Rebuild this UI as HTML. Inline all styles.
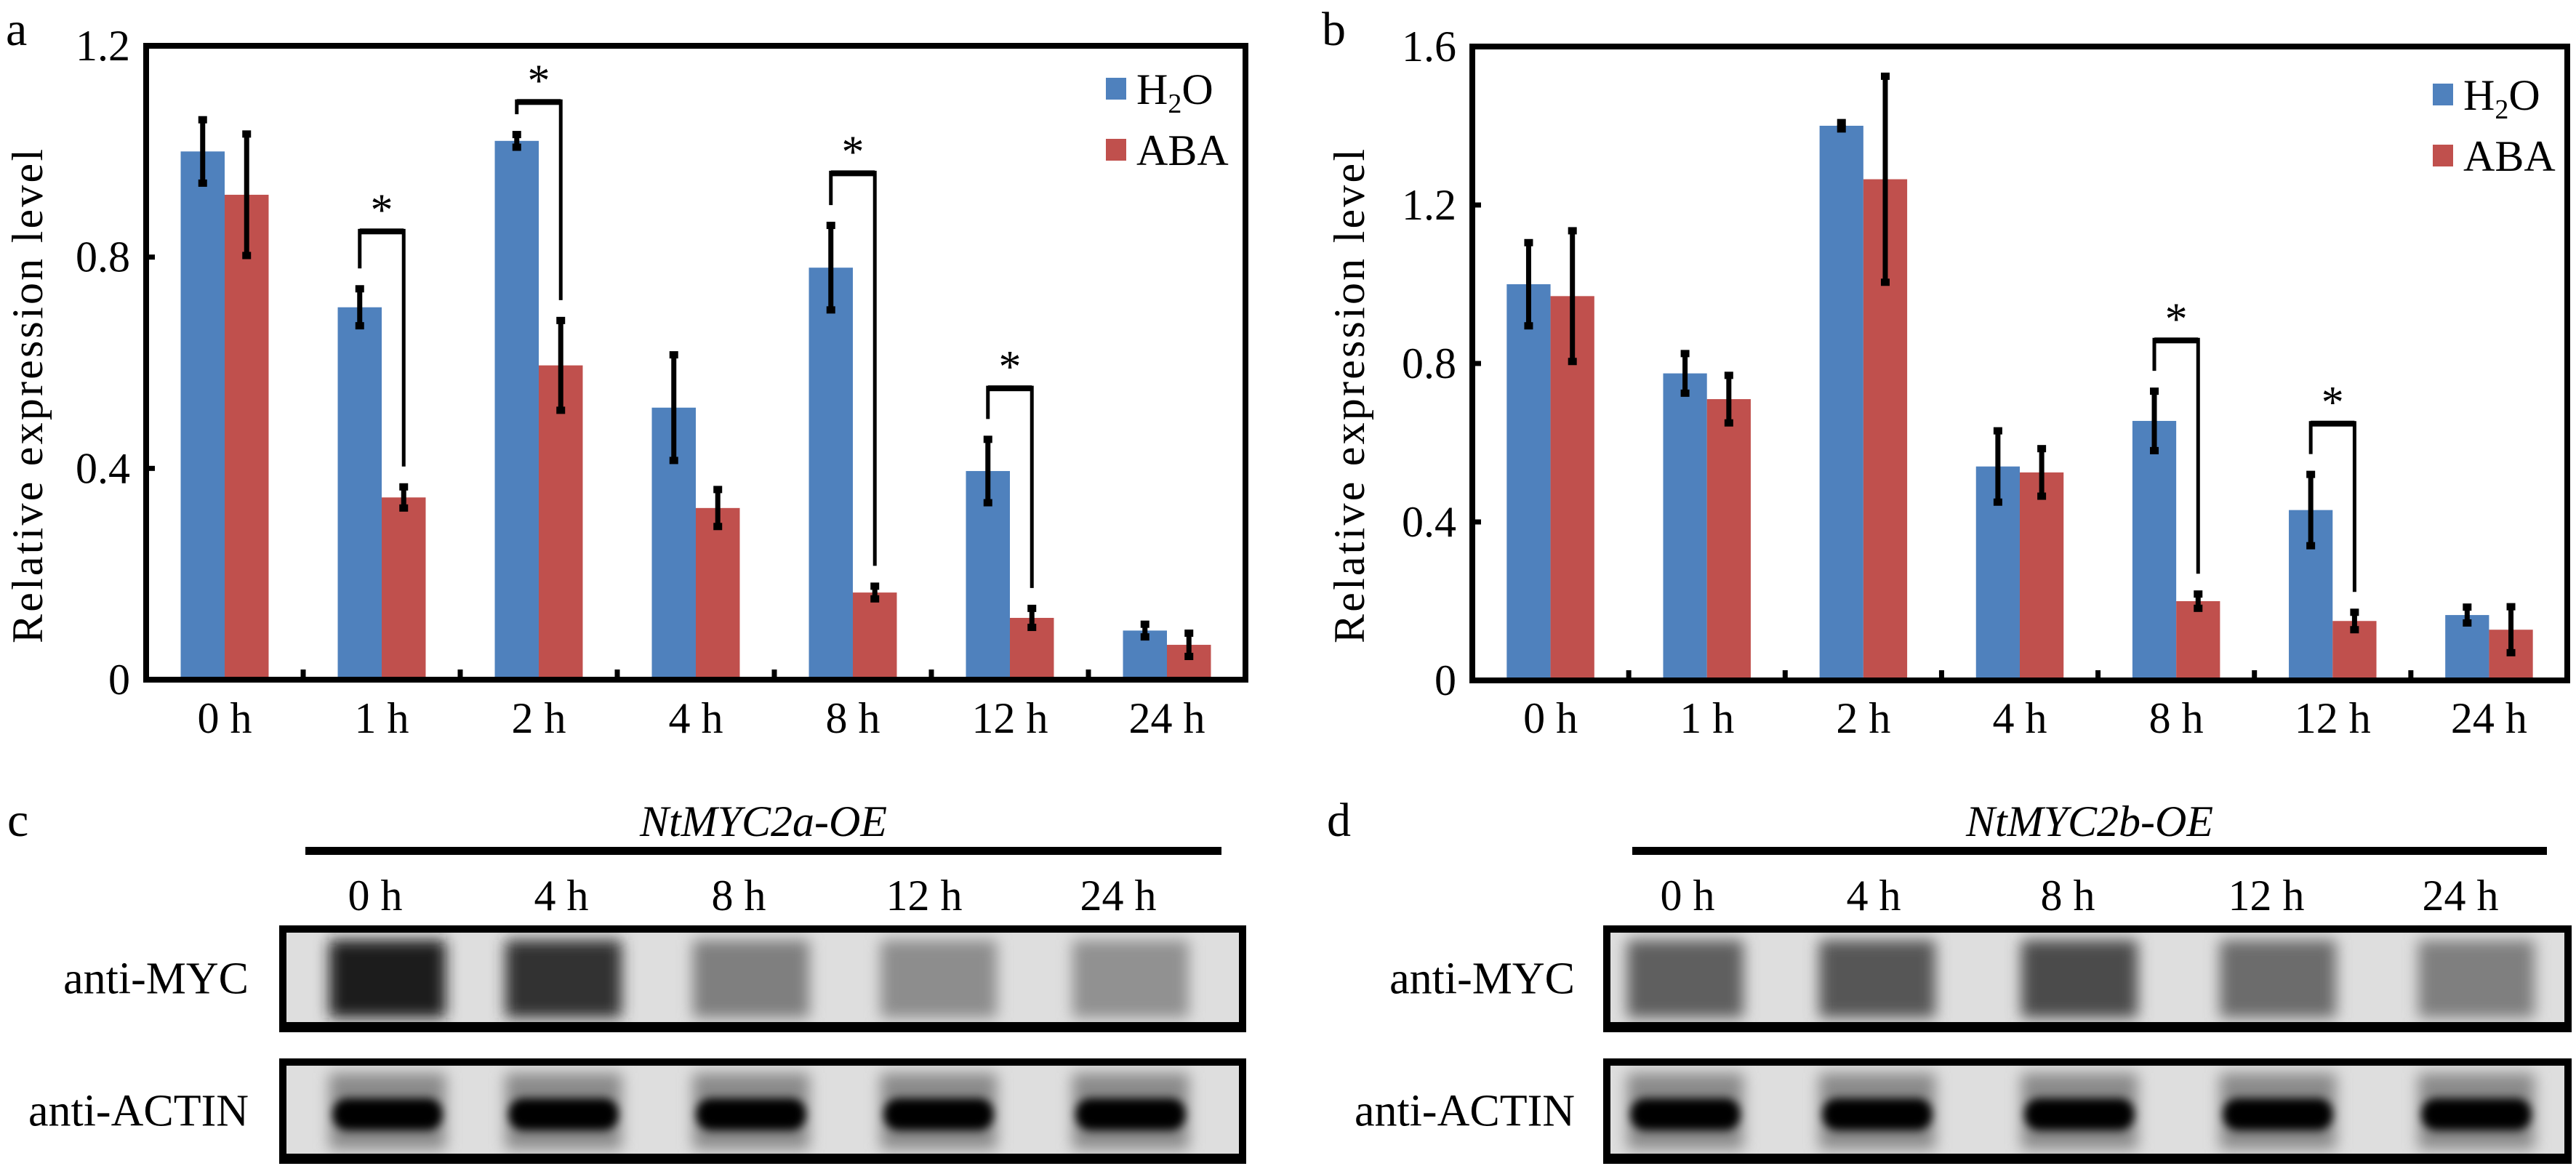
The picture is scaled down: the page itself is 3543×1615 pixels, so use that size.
<!DOCTYPE html>
<html><head><meta charset="utf-8">
<style>
html,body{margin:0;padding:0;background:#fff;}
svg{display:block;font-family:"Liberation Serif",serif;}
</style></head>
<body>
<svg id="fig" width="3543" height="1615" viewBox="0 0 3543 1615" xmlns="http://www.w3.org/2000/svg">
<defs>
<filter id="blur" x="-30%" y="-30%" width="160%" height="160%"><feGaussianBlur stdDeviation="10"/></filter>
<filter id="blur2" x="-30%" y="-50%" width="160%" height="200%"><feGaussianBlur stdDeviation="6"/></filter>
</defs>
</svg>
<script>
// ---- Panel a data ----
const categoriesA = ["0 h","1 h","2 h","4 h","8 h","12 h","24 h"];
const h2oA = [1.00,0.705,1.02,0.515,0.78,0.395,0.093];
const h2oErrA = [0.06,0.035,0.012,0.10,0.08,0.06,0.012];
const abaA = [0.918,0.345,0.595,0.325,0.165,0.117,0.066];
const abaErrA = [0.115,0.02,0.085,0.035,0.012,0.018,0.022];
const ticksA = [0,0.4,0.8,1.2];
const tickLabelsA = ["0","0.4","0.8","1.2"];
const sigA = [1,2,4,5];
const bracketTopA = [0.85,1.095,0.96,0.553];
// ---- Panel b data ----
const categoriesB = ["0 h","1 h","2 h","4 h","8 h","12 h","24 h"];
const h2oB = [1.00,0.775,1.40,0.54,0.655,0.43,0.165];
const h2oErrB = [0.105,0.05,0.008,0.09,0.075,0.09,0.02];
const abaB = [0.97,0.71,1.265,0.525,0.20,0.15,0.128];
const abaErrB = [0.165,0.06,0.26,0.06,0.018,0.022,0.058];
const ticksB = [0,0.4,0.8,1.2,1.6];
const tickLabelsB = ["0","0.4","0.8","1.2","1.6"];
const sigB = [4,5];
const bracketTopB = [0.86,0.65];
// ---- Blot data ----
const lanesC = ["0 h","4 h","8 h","12 h","24 h"];
const mycC = [0.95,0.85,0.45,0.38,0.36];
const actinC = [0.95,0.95,0.95,0.95,0.9];
const lanesD = ["0 h","4 h","8 h","12 h","24 h"];
const mycD = [0.62,0.66,0.72,0.55,0.45];
const actinD = [0.95,0.95,0.95,0.95,0.95];

const NS="http://www.w3.org/2000/svg";
const svg=document.getElementById('fig');
function el(tag,attrs,parent,text){const e=document.createElementNS(NS,tag);for(const k in attrs)e.setAttribute(k,attrs[k]);if(text!==undefined)e.textContent=text;(parent||svg).appendChild(e);return e;}

function drawChart(cfg){
  const g=el('g',{});
  
  
  const {x0,x1,y0,y1,vmax}=cfg;
  const yS=v=>y0-(v/vmax)*(y0-y1);
  const gw=(x1-x0)/cfg.cats.length;
  const bw=gw*0.28;
  const off=gw*0.22;
  const bx=(i,s)=>x0+i*gw+off+s*bw;
  // bars
  cfg.cats.forEach((c,i)=>{
    const series=[[cfg.h2o,cfg.h2oErr,'#4F81BD','h2o'],[cfg.aba,cfg.abaErr,'#C0504D','aba']];
    series.forEach((s,si)=>{
      const v=s[0][i],e=s[1][i];
      const r=el('rect',{x:bx(i,si),y:yS(v),width:bw,height:y0-yS(v),fill:s[2]},g);
      
      
      const cx=bx(i,si)+bw/2;
      const eg=el('g',{},g);
      
      
      el('line',{x1:cx,x2:cx,y1:yS(v+e),y2:yS(v-e),stroke:'#000','stroke-width':7},eg);
      el('rect',{x:cx-6,y:yS(v+e)-5,width:12,height:10,fill:'#000'},eg);
      el('rect',{x:cx-6,y:yS(v-e)-5,width:12,height:10,fill:'#000'},eg);
    });
    const t=el('text',{x:x0+i*gw+gw/2,y:cfg.labY,'font-size':60,'text-anchor':'middle'},g,c);
    
    
    if(i>0){el('line',{x1:x0+i*gw,x2:x0+i*gw,y1:y0,y2:y0-14,stroke:'#000','stroke-width':7},g);}
  });
  // brackets
  cfg.sig.forEach((i,k)=>{
    const bg=el('g',{},g);
    
    
    const lx=bx(i,0)+bw/2, rx=bx(i,1)+bw/2, ty=yS(cfg.top[k]);
    const lb=yS(cfg.h2o[i]+cfg.h2oErr[i])-28, rb=yS(cfg.aba[i]+cfg.abaErr[i])-28;
    el('path',{d:`M${lx},${lb} L${lx},${ty} L${rx},${ty} L${rx},${rb}`,fill:'none',stroke:'#000','stroke-width':5},bg);
    el('rect',{x:lx,y:ty-3,width:rx-lx,height:8,fill:'#000'},bg);
    el('text',{x:(lx+rx)/2,y:ty-8,'font-size':62,'text-anchor':'middle'},bg,'*');
  });
  // y ticks
  cfg.ticks.forEach((v,k)=>{
    const t=el('text',{x:x0-22,y:yS(v)+20,'font-size':60,'text-anchor':'end'},g,cfg.tickLabels[k]);
    
    
    el('line',{x1:x0,x2:x0+12,y1:yS(v),y2:yS(v),stroke:'#000','stroke-width':7},g);
  });
  // frame
  const f=el('rect',{x:x0,y:y1,width:x1-x0,height:y0-y1,fill:'none',stroke:'#000','stroke-width':8},g);
  
  
  // y title
  const yt=el('text',{x:0,y:0,'font-size':60,'text-anchor':'middle',textLength:680,lengthAdjust:'spacing',transform:`translate(${cfg.titleX},545) rotate(-90)`},g,'Relative expression level');
  
  
  // panel letter
  const pl=el('text',{x:cfg.letterX,y:62,'font-size':66},g,cfg.letter);
  
  
  // legend
  const lg=el('g',{},g);
  
  
  const e1=el('g',{},lg);
  
  
  el('rect',{x:cfg.legX,y:cfg.legY,width:28,height:30,fill:'#4F81BD'},e1);
  const tx=el('text',{x:cfg.legX+42,y:cfg.legY+36,'font-size':60},e1);
  el('tspan',{},tx,'H');
  el('tspan',{'font-size':38,dy:12},tx,'2');
  el('tspan',{dy:-12},tx,'O');
  const e2=el('g',{},lg);
  
  
  el('rect',{x:cfg.legX,y:cfg.legY+84,width:28,height:30,fill:'#C0504D'},e2);
  el('text',{x:cfg.legX+42,y:cfg.legY+120,'font-size':60},e2,'ABA');
}

drawChart({name:'chart-a',x0:201,x1:1713,y0:935,y1:63,vmax:1.2,cats:categoriesA,h2o:h2oA,h2oErr:h2oErrA,aba:abaA,abaErr:abaErrA,ticks:ticksA,tickLabels:tickLabelsA,sig:sigA,top:bracketTopA,labY:1008,titleX:58,letter:'a',letterX:8,legX:1521,legY:107});
drawChart({name:'chart-b',x0:2025,x1:3531,y0:936,y1:64,vmax:1.6,cats:categoriesB,h2o:h2oB,h2oErr:h2oErrB,aba:abaB,abaErr:abaErrB,ticks:ticksB,tickLabels:tickLabelsB,sig:sigB,top:bracketTopB,labY:1008,titleX:1876,letter:'b',letterX:1818,legX:3346,legY:115});

function drawBlots(cfg){
  const g=el('g',{});
  
  
  const pl=el('text',{x:cfg.letterX,y:1150,'font-size':66},g,cfg.letter);
  
  
  const tt=el('text',{x:(cfg.lineX0+cfg.lineX1)/2,y:1150,'font-size':60,'font-style':'italic','text-anchor':'middle'},g,cfg.title);
  
  
  el('rect',{x:cfg.lineX0,y:1165,width:cfg.lineX1-cfg.lineX0,height:11,fill:'#000'},g);
  cfg.lanes.forEach((l,i)=>{
    const t=el('text',{x:cfg.labelX[i],y:1252,'font-size':60,'text-anchor':'middle'},g,l);
    
    
  });
  const rows=[[1273,1420,cfg.myc,'anti-MYC','myc'],[1456,1601,cfg.actin,'anti-ACTIN','actin']];
  rows.forEach(r=>{
    const [ya,yb,vals,lab,key]=r;
    const bgp=el('g',{},g);
    
    
    el('rect',{x:cfg.bx0,y:ya,width:cfg.bx1-cfg.bx0,height:yb-ya,fill:'#dedede'},bgp);
    cfg.laneX.forEach((cx,i)=>{
      const v=vals[i];
      if(key==='myc'){
        const gray=Math.round(215-195*v);
        el('rect',{x:cx-80,y:ya+20,width:160,height:yb-ya-40,fill:`rgb(${gray},${gray},${gray})`,filter:'url(#blur)'},bgp);
      } else {
        el('rect',{x:cx-80,y:ya+20,width:160,height:yb-ya-40,fill:'#8a8a8a',filter:'url(#blur)'},bgp);
        const gray=Math.round(60-60*v);
        el('rect',{x:cx-75,y:ya+55,width:150,height:44,rx:20,fill:`rgb(${gray},${gray},${gray})`,filter:'url(#blur2)'},bgp);
      }
    });
    el('rect',{x:cfg.bx0+5,y:ya+5,width:cfg.bx1-cfg.bx0-10,height:yb-ya-10,fill:'none',stroke:'#000','stroke-width':10},bgp);
    el('rect',{x:cfg.bx0+5,y:yb-14,width:cfg.bx1-cfg.bx0-10,height:10,fill:'#000'},bgp);
    const t=el('text',{x:cfg.rowLabelX,y:(ya+yb)/2+20,'font-size':62,'text-anchor':'end'},g,lab);
    
    
  });
}
drawBlots({name:'blot-panel-c',letter:'c',letterX:10,title:'NtMYC2a-OE',lineX0:420,lineX1:1680,labelX:[516,772,1016,1271,1538],laneX:[533,775,1033,1291,1555],bx0:384,bx1:1714,myc:mycC,actin:actinC,lanes:lanesC,rowLabelX:342});
drawBlots({name:'blot-panel-d',letter:'d',letterX:1825,title:'NtMYC2b-OE',lineX0:2245,lineX1:3503,labelX:[2321,2577,2844,3117,3384],laneX:[2318,2582,2860,3133,3406],bx0:2205,bx1:3537,myc:mycD,actin:actinD,lanes:lanesD,rowLabelX:2166});
</script>
</body></html>
